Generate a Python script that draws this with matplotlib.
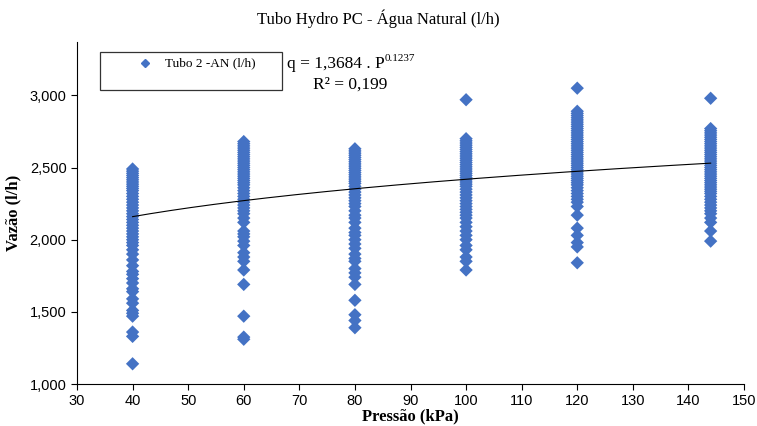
import numpy as np
import matplotlib.pyplot as plt
from matplotlib.ticker import FuncFormatter
from matplotlib.patches import Rectangle
from matplotlib.lines import Line2D

# Flow readings (l/h) per pressure level (kPa)
p40 = [2490, 2475, 2460, 2445, 2430, 2415, 2400, 2385, 2370, 2355, 2340, 2320, 2300,
       2280, 2260, 2240, 2220, 2200, 2180, 2160, 2140, 2120, 2100, 2080, 2060, 2040,
       2020, 2000, 1980, 1960, 1930, 1900, 1860, 1820, 1780, 1760, 1730, 1700, 1660,
       1640, 1590, 1560, 1510, 1490, 1470, 1360, 1330, 1140]
p60 = [2680, 2665, 2650, 2635, 2620, 2605, 2590, 2575, 2560, 2545, 2530, 2515, 2500,
       2485, 2470, 2455, 2440, 2425, 2410, 2395, 2380, 2360, 2340, 2320, 2300, 2280,
       2260, 2240, 2220, 2200, 2180, 2150, 2120, 2060, 2040, 2020, 1990, 1960, 1910,
       1880, 1850, 1790, 1690, 1470, 1325, 1310]
p80 = [2630, 2615, 2600, 2585, 2570, 2555, 2540, 2525, 2510, 2495, 2480, 2465, 2450,
       2435, 2420, 2405, 2390, 2370, 2350, 2330, 2310, 2290, 2270, 2250, 2230, 2200,
       2170, 2150, 2120, 2080, 2050, 2030, 2000, 1970, 1940, 1900, 1870, 1850, 1800,
       1770, 1740, 1690, 1580, 1480, 1440, 1390]
p100 = [2970, 2700, 2685, 2670, 2655, 2640, 2625, 2610, 2595, 2580, 2565, 2550, 2535,
        2520, 2505, 2490, 2475, 2460, 2445, 2430, 2415, 2400, 2385, 2370, 2350, 2330,
        2310, 2290, 2270, 2250, 2230, 2210, 2190, 2170, 2150, 2120, 2090, 2060, 2030,
        2000, 1960, 1930, 1880, 1850, 1790]
p120 = [3050, 2890, 2875, 2860, 2845, 2830, 2815, 2800, 2785, 2770, 2755, 2740, 2725,
        2710, 2695, 2680, 2665, 2650, 2635, 2620, 2605, 2590, 2575, 2560, 2545, 2530,
        2515, 2500, 2485, 2470, 2455, 2440, 2425, 2410, 2395, 2380, 2360, 2340, 2320,
        2300, 2280, 2260, 2230, 2170, 2080, 2030, 1980, 1950, 1840]
p144 = [2980, 2770, 2755, 2740, 2725, 2710, 2695, 2680, 2665, 2650, 2635, 2620, 2605,
        2590, 2575, 2560, 2545, 2530, 2515, 2500, 2485, 2470, 2455, 2440, 2425, 2410,
        2395, 2380, 2365, 2350, 2335, 2320, 2300, 2280, 2260, 2240, 2220, 2200, 2180,
        2150, 2120, 2060, 1990]
pressures = [40, 60, 80, 100, 120, 144]
flows = [p40, p60, p80, p100, p120, p144]

# Power trendline q = a * P^b (as printed on the chart, q in m3/h -> l/h)
a_coef = 1.3684
b_coef = 0.1237

x_all = np.concatenate([[p] * len(f) for p, f in zip(pressures, flows)])
y_all = np.concatenate(flows)

serif = ['Liberation Serif', 'DejaVu Serif']
W, H = 757, 426

fig = plt.figure(figsize=(W / 100, H / 100), dpi=100)
ax = fig.add_axes([77 / W, 42 / H, (744 - 77) / W, (384 - 42) / H])

ax.scatter(x_all, y_all, marker='D', s=46, color='#4472C4', edgecolors='none', zorder=2)

xt = np.linspace(40, 144, 200)
ax.plot(xt, a_coef * xt ** b_coef * 1000, color='black', lw=0.8, zorder=3)

ax.set_xlim(30, 150)
ax.set_ylim(1000, 3370)
ax.set_xticks(range(30, 151, 10))
ax.set_yticks(range(1000, 3001, 500))
ax.yaxis.set_major_formatter(FuncFormatter(lambda v, _: f'{int(v):,}'))
for s in ['top', 'right']:
    ax.spines[s].set_visible(False)
ax.tick_params(labelsize=10.5, length=4, width=0.8)
for lab in ax.get_xticklabels() + ax.get_yticklabels():
    lab.set_family('Liberation Sans')

ax.set_xlabel('Pressão (kPa)', family=serif, fontweight='bold', fontsize=12, labelpad=0)
ax.set_ylabel('Vazão (l/h)', family=serif, fontweight='bold', fontsize=12, labelpad=6)
fig.text(0.5, 1 - 19 / H, 'Tubo Hydro PC - Água Natural (l/h)', family=serif,
         fontsize=12, ha='center', va='center')

# legend box drawn by hand (original is a tall, mostly empty box)
fig.patches.append(Rectangle((100 / W, 1 - 90 / H), 182 / W, 38 / H, transform=fig.transFigure,
                             fill=False, edgecolor='#333333', lw=0.9))
fig.lines.append(Line2D([145 / W], [1 - 63 / H], transform=fig.transFigure, marker='D',
                        markersize=4, color='#4472C4', ls='none'))
fig.text(165 / W, 1 - 63 / H, 'Tubo 2 -AN (l/h)', family=serif, fontsize=9.5, va='center')

eq = fig.text(287 / W, 1 - 64 / H, 'q = 1,3684 . P', family=serif, fontsize=12.5, va='center')
ax.annotate('0.1237', xy=(1, 0.85), xycoords=eq, family=serif, fontsize=8,
            ha='left', va='center')
fig.text(313 / W, 1 - 85 / H, 'R² = 0,199', family=serif, fontsize=12.5, va='center')

fig.savefig('out.png', dpi=100)
